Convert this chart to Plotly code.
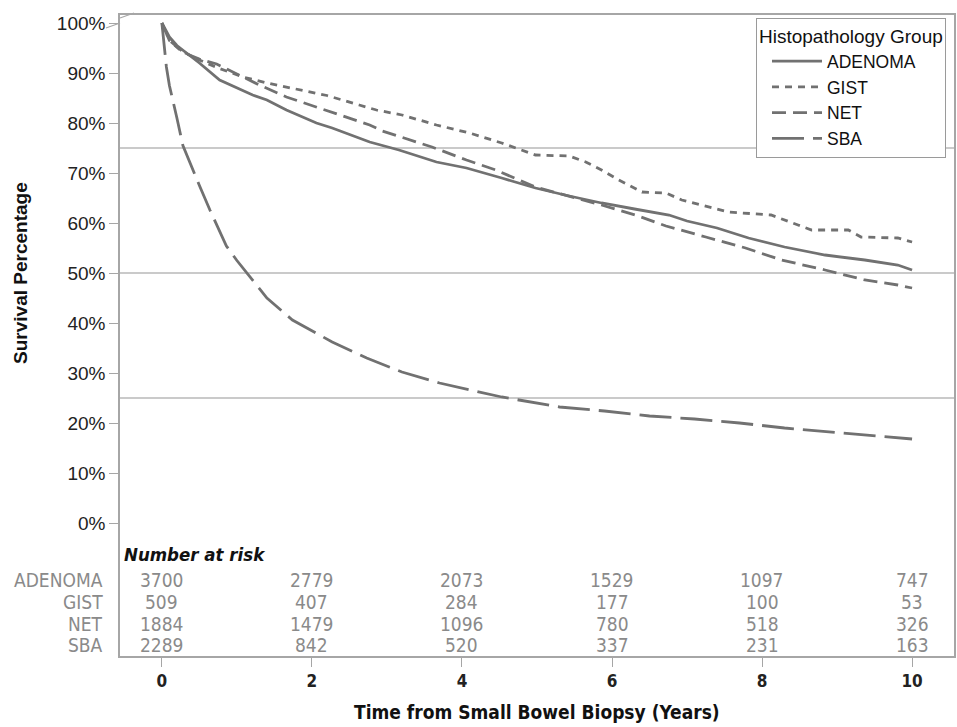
import plotly.graph_objects as go

# ---------------- data ----------------
adenoma_t = [0, 0.1, 0.2, 0.33, 0.5, 0.77, 1.0, 1.21, 1.4, 1.66, 2.06, 2.27, 2.77, 3.16, 3.66, 4.06,
             4.53, 4.98, 5.4, 5.86, 6.3, 6.76, 7.0, 7.4, 7.82, 8.3, 8.84, 9.37, 9.81, 10.0]
adenoma_s = [100, 97.2, 95.5, 94, 92, 88.6, 87, 85.6, 84.6, 82.6, 80, 79, 76.2, 74.6, 72.2, 71,
             69, 67, 65.5, 64, 62.8, 61.6, 60.4, 59, 57, 55.2, 53.6, 52.6, 51.6, 50.6]

gist_t = [0, 0.1, 0.25, 0.5, 0.75, 1.08, 1.4, 1.84, 2.2, 2.63, 2.86, 3.2, 3.66, 4.1, 4.53, 4.98,
          5.43, 5.65, 5.86, 6.09, 6.4, 6.72, 6.93, 7.55, 8.12, 8.48, 8.66, 9.15, 9.32, 9.81, 10.0]
gist_s = [100, 96.5, 94.5, 92.6, 91, 89.2, 88, 86.6, 85.5, 83.6, 82.6, 81.6, 79.6, 78, 76, 73.6,
          73.4, 72.2, 70.6, 68.6, 66.2, 66, 64.6, 62.2, 61.6, 59.6, 58.6, 58.6, 57.2, 57, 56.2]

net_t = [0, 0.1, 0.3, 0.5, 0.73, 1.0, 1.3, 1.66, 2.0, 2.27, 2.77, 2.94, 3.2, 3.6, 4.06, 4.45,
         4.98, 5.4, 5.86, 6.31, 6.72, 7.25, 7.78, 8.26, 8.84, 9.37, 9.81, 10.0]
net_s = [100, 96.5, 94, 92.8, 91.8, 89.8, 87.6, 85.2, 83.5, 82, 79.6, 78.4, 77.2, 75.2, 72.6, 70.6,
         67.2, 65.5, 63.6, 61.6, 59.4, 57.2, 55, 52.6, 50.6, 48.6, 47.6, 47]

sba_t = [0, 0.03, 0.06, 0.1, 0.15, 0.2, 0.28, 0.4, 0.5, 0.64, 0.86, 1.0, 1.13, 1.4, 1.74, 2.0,
         2.27, 2.73, 3.2, 3.7, 4.23, 4.53, 4.76, 5.3, 5.9, 6.5, 7.1, 7.7, 8.3, 8.9, 9.55, 10.0]
sba_s = [100, 95, 91.2, 87.5, 84.5, 81, 75.5, 71, 67.5, 62.6, 55.4, 52.5, 50, 45, 40.6, 38.4,
         36.2, 33, 30.2, 28, 26.2, 25.2, 24.6, 23.2, 22.4, 21.4, 20.8, 20, 19, 18.2, 17.4, 16.8]

groups = ["ADENOMA", "GIST", "NET", "SBA"]
risk_times = [0, 2, 4, 6, 8, 10]
risk_adenoma = [3700, 2779, 2073, 1529, 1097, 747]
risk_gist = [509, 407, 284, 177, 100, 53]
risk_net = [1884, 1479, 1096, 780, 518, 326]
risk_sba = [2289, 842, 520, 337, 231, 163]

y_ticks = [0, 10, 20, 30, 40, 50, 60, 70, 80, 90, 100]
y_ticklabels = [f"{v}%" for v in y_ticks]
x_ticks = [0, 2, 4, 6, 8, 10]
ref_levels = [25, 50, 75]

# ---------------- styling ----------------
LINE = "#717171"
FRAME = "#a6a6a6"
COND = "DejaVu Sans Condensed, DejaVu Sans, sans-serif"
SANS = "Liberation Sans, Arial, sans-serif"

series = [
    ("ADENOMA", adenoma_t, adenoma_s, "solid"),
    ("GIST", gist_t, gist_s, "7px,6px"),
    ("NET", net_t, net_s, "14px,7px"),
    ("SBA", sba_t, sba_s, "32px,9px"),
]

fig = go.Figure()
for name, t, s, dash in series:
    fig.add_trace(go.Scatter(
        x=t, y=s, mode="lines", name=name,
        line=dict(color=LINE, width=2.8, dash=dash),
        hoverinfo="skip",
    ))

for lvl in ref_levels:
    fig.add_shape(type="line", xref="paper", x0=0, x1=1, yref="y", y0=lvl, y1=lvl,
                  line=dict(color="#b8b8b8", width=1.5), layer="below")

# axis break mark at top-left corner
fig.add_shape(type="line", xref="paper", yref="paper", x0=-0.0168, y0=0.9797, x1=0.0, y1=0.9875,
              line=dict(color=FRAME, width=1.2))
fig.add_shape(type="line", xref="paper", yref="paper", x0=0.0, y0=0.9953, x1=0.0168, y1=1.0031,
              line=dict(color=FRAME, width=1.2))

annotations = []
# Number at risk table
annotations.append(dict(text="Number at risk", xref="paper", x=0.0025, xanchor="left",
                        yref="y", y=-6.2, yanchor="middle", showarrow=False,
                        font=dict(family=COND, size=18.5, color="#111", weight="bold", style="italic")))
risk_rows = [risk_adenoma, risk_gist, risk_net, risk_sba]
row_top, row_pitch = -11.4, -4.35
for i, (g, row) in enumerate(zip(groups, risk_rows)):
    yy = row_top + i * row_pitch
    annotations.append(dict(text=g, xref="paper", x=-0.018, xanchor="right", yref="y", y=yy,
                            yanchor="middle", showarrow=False,
                            font=dict(family=COND, size=19, color="#8a8a8a")))
    for tt, n in zip(risk_times, row):
        annotations.append(dict(text=str(n), xref="x", x=tt, xanchor="center", yref="y", y=yy,
                                yanchor="middle", showarrow=False,
                                font=dict(family=COND, size=19, color="#8a8a8a")))

# axis titles
annotations.append(dict(text="Time from Small Bowel Biopsy (Years)", xref="paper", x=0.5,
                        yref="paper", y=-0.088, yanchor="middle", showarrow=False,
                        font=dict(family=COND, size=19, color="#111", weight="bold")))
annotations.append(dict(text="Survival Percentage", xref="paper", x=-0.120, xanchor="center",
                        yref="y", y=50, yanchor="middle", textangle=-90, showarrow=False,
                        font=dict(family=SANS, size=19, color="#111", weight="bold")))

fig.update_layout(
    width=957, height=727,
    margin=dict(l=120, r=1, t=15, b=71),
    paper_bgcolor="white", plot_bgcolor="white",
    showlegend=True,
    legend=dict(
        title=dict(text="Histopathology Group", font=dict(family=SANS, size=19, color="#111")),
        x=0.9904, xanchor="right", y=0.996, yanchor="top",
        bgcolor="white", bordercolor="#9a9a9a", borderwidth=1,
        font=dict(family=SANS, size=17.5, color="#111"),
        itemwidth=50, indentation=10,
    ),
    xaxis=dict(
        range=[-0.5585, 10.559], showgrid=False, zeroline=False,
        showline=True, linecolor=FRAME, linewidth=1.5, mirror=True,
        ticks="outside", ticklen=9, tickcolor=FRAME, tickwidth=1,
        tickvals=x_ticks, ticktext=[str(v) for v in x_ticks],
        tickfont=dict(family=COND, size=17, color="#222", weight="bold"),
    ),
    yaxis=dict(
        range=[-26.6, 101.6], showgrid=False, zeroline=False,
        showline=True, linecolor=FRAME, linewidth=1.5, mirror=True,
        ticks="outside", ticklen=9, tickcolor=FRAME, tickwidth=1,
        tickvals=y_ticks, ticktext=y_ticklabels,
        tickfont=dict(family=SANS, size=19, color="#222"),
    ),
    annotations=annotations,
)

fig.write_html("out.html",
               config={"displayModeBar": False},
               post_script="document.body.style.margin='0';document.body.style.padding='0';"
                           "document.body.style.overflow='hidden';")
